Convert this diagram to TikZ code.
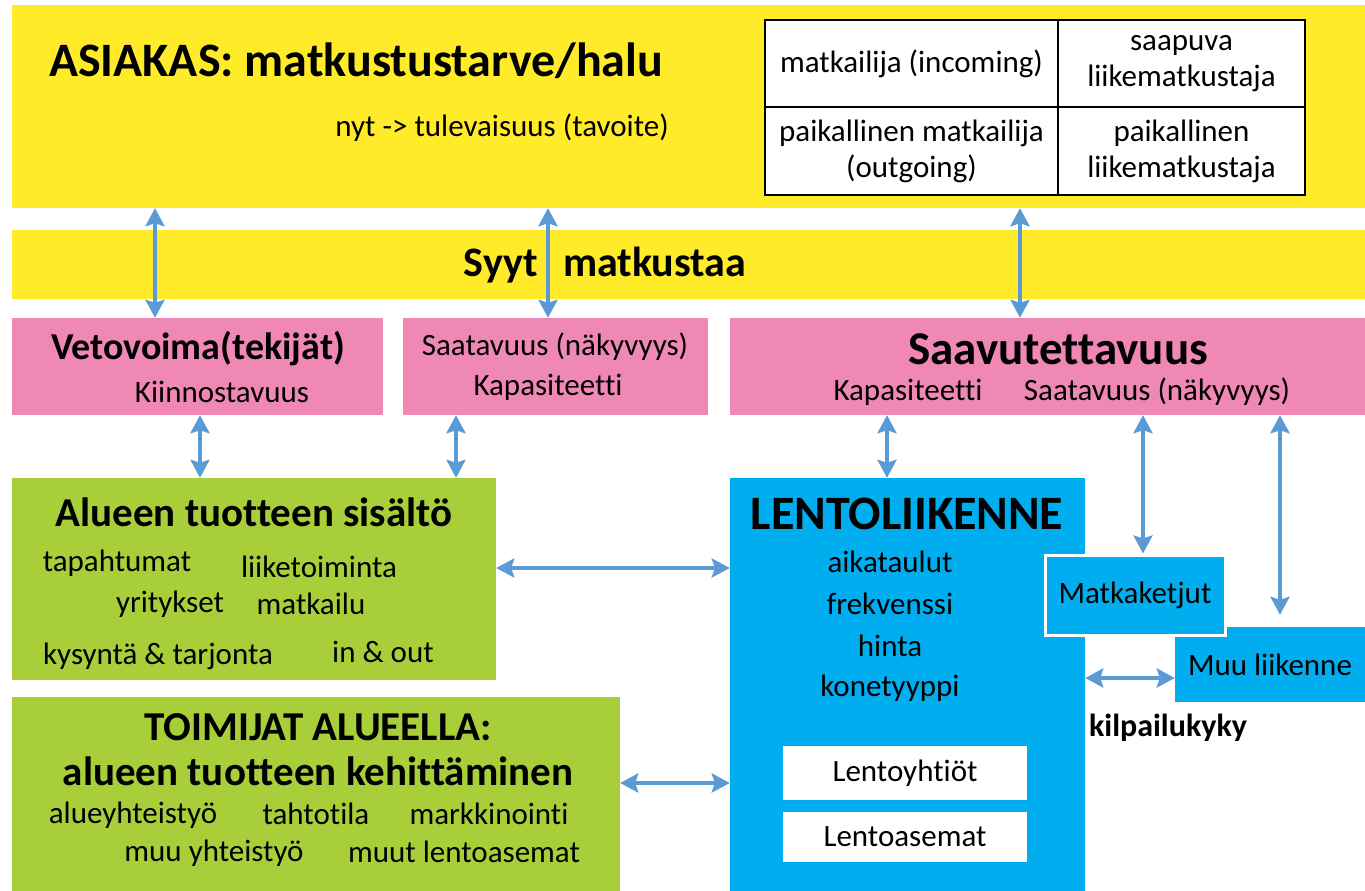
\documentclass[tikz,border=0pt]{standalone}
\usepackage{fontspec}
\setmainfont[Ligatures=NoCommon]{Carlito}
\usepackage{tikz}
\usetikzlibrary{arrows.meta}

\definecolor{asiakasyellow}{RGB}{255,235,41}
\definecolor{tekijapink}{RGB}{240,136,182}
\definecolor{alueengreen}{RGB}{168,206,58}
\definecolor{lentoblue}{RGB}{0,174,239}
\definecolor{linkblue}{RGB}{91,155,213}

\tikzset{
  box/.style={rectangle, draw=none, inner sep=0pt},
  cell/.style={rectangle, draw=black, line width=1.2pt, fill=white, inner sep=0pt, align=center, font=\fontsize{31}{36}\selectfont},
  txt/.style={inner sep=0pt, font=\fontsize{31}{36}\selectfont},
  head/.style={inner sep=0pt, font=\fontsize{41}{46}\selectfont\bfseries},
  link/.style={draw=linkblue, line width=4pt, {Stealth[length=18pt,width=19pt,inset=3pt]}-{Stealth[length=18pt,width=19pt,inset=3pt]}}
}

\begin{document}
\begin{tikzpicture}[x=1pt, y=-1pt]
	\useasboundingbox (0,0) rectangle (1365,891);

	% boxes
	\node[box, fill=asiakasyellow, minimum width=1353pt, minimum height=203pt] (asiakas) at (688.5,106.5) {};
	\node[box, fill=asiakasyellow, minimum width=1353pt, minimum height=69pt]  (syyt)    at (688.5,264)   {};
	\node[box, fill=tekijapink,  minimum width=371pt, minimum height=97pt] (veto) at (197.5,366.5) {};
	\node[box, fill=tekijapink,  minimum width=305pt, minimum height=97pt] (saat) at (555.5,366.5) {};
	\node[box, fill=tekijapink,  minimum width=635pt, minimum height=97pt] (saav) at (1047.5,366.5) {};
	\node[box, fill=alueengreen, minimum width=484pt, minimum height=202pt] (alue) at (254,579) {};
	\node[box, fill=alueengreen, minimum width=608pt, minimum height=194pt] (toim) at (316,794) {};
	\node[box, fill=lentoblue,   minimum width=355pt, minimum height=413pt] (lento) at (907.5,684.5) {};
	\node[box, fill=lentoblue,   minimum width=190pt, minimum height=75pt]  (muu)   at (1270,664.5) {};
	\node[box, fill=lentoblue, draw=white, line width=3pt, minimum width=180pt, minimum height=80pt] (ketju) at (1135,595) {};
	\node[box, fill=white, minimum width=244pt, minimum height=54pt] (yhtiot) at (905,773) {};
	\node[box, fill=white, minimum width=244pt, minimum height=50pt] (asemat) at (905,837) {};

	% table
	\node[cell, minimum width=293pt, minimum height=87pt] (c11) at (911.5,63.5)  {matkailija (incoming)};
	\node[cell, minimum width=247pt, minimum height=87pt] (c12) at (1181.5,63.5) {saapuva\\liikematkustaja};
	\node[cell, minimum width=293pt, minimum height=88pt] (c21) at (911.5,151)   {paikallinen matkailija\\(outgoing)};
	\node[cell, minimum width=247pt, minimum height=88pt] (c22) at (1181.5,151)  {paikallinen\\liikematkustaja};

	% texts
	\node[inner sep=0pt, font=\fontsize{48}{52}\selectfont\bfseries] (asiakastxt) at (356,61) {ASIAKAS: matkustustarve/halu};
	\node[txt] (nyt) at (502,128) {nyt -> tulevaisuus (tavoite)};
	\node[head, font=\fontsize{42}{46}\selectfont\bfseries] (syyttxt) at (605,265) {Syyt\hspace{0.6em}matkustaa};

	\node[head, font=\fontsize{38}{42}\selectfont\bfseries] (vetotxt) at (198,349) {Vetovoima(tekijät)};
	\node[txt] (kiinn) at (222,392) {Kiinnostavuus};
	\node[txt] (saattxt) at (555,347) {Saatavuus (näkyvyys)};
	\node[txt] (kap1) at (548,387) {Kapasiteetti};
	\node[head, font=\fontsize{47}{52}\selectfont\bfseries] (saavtxt) at (1058,349) {Saavutettavuus};
	\node[txt] (kap2) at (908,392) {Kapasiteetti};
	\node[txt] (saat2) at (1157,392) {Saatavuus (näkyvyys)};

	\node[head] (aluetxt) at (254,512) {Alueen tuotteen sisältö};
	\node[txt] (tapaht) at (117,563) {tapahtumat};
	\node[txt] (liiket) at (319,567) {liiketoiminta};
	\node[txt] (yrit)   at (170,604) {yritykset};
	\node[txt] (matk)   at (311,604) {matkailu};
	\node[txt] (kysynta) at (158,656) {kysyntä \& tarjonta};
	\node[txt] (inout)  at (383,652) {in \& out};

	\node[head] (toimtxt) at (318,727) {TOIMIJAT ALUEELLA:};
	\node[head] (kehit)   at (318,771) {alueen tuotteen kehittäminen};
	\node[txt] (alueyht) at (133,815) {alueyhteistyö};
	\node[txt] (tahto)   at (316,814) {tahtotila};
	\node[txt] (markk)   at (489,814) {markkinointi};
	\node[txt] (muuyht)  at (214,853) {muu yhteistyö};
	\node[txt] (muutla)  at (464,852) {muut lentoasemat};

	\node[head, font=\fontsize{48}{52}\selectfont\bfseries] (lentotxt) at (907,514) {LENTOLIIKENNE};
	\node[txt] (aikat) at (890,562) {aikataulut};
	\node[txt] (frekv) at (890,604) {frekvenssi};
	\node[txt] (hinta) at (890,646) {hinta};
	\node[txt] (konet) at (890,688) {konetyyppi};
	\node[txt] at (yhtiot) {Lentoyhtiöt};
	\node[txt] at (asemat) {Lentoasemat};
	\node[txt] at (ketju) {Matkaketjut};
	\node[txt] at (muu) {Muu liikenne};
	\node[inner sep=0pt, font=\fontsize{32}{36}\selectfont\bfseries] (kilp) at (1168,728) {kilpailukyky};

	% connectors
	\draw[link] ([xshift=-42.5pt]veto.north) -- ([xshift=-42.5pt]veto.north |- asiakas.south);
	\draw[link] ([xshift=-7.5pt]saat.north) -- ([xshift=-7.5pt]saat.north |- asiakas.south);
	\draw[link] ([xshift=-27.5pt]saav.north) -- ([xshift=-27.5pt]saav.north |- asiakas.south);
	\draw[link] ([xshift=2.5pt]veto.south) -- ([xshift=2.5pt]veto.south |- alue.north);
	\draw[link] ([xshift=-99.5pt]saat.south) -- ([xshift=-99.5pt]saat.south |- alue.north);
	\draw[link] ([xshift=-160.5pt]saav.south) -- ([xshift=-160.5pt]saav.south |- lento.north);
	\draw[link] ([xshift=95.5pt]saav.south) -- ([xshift=95.5pt]saav.south |- ketju.north);
	\draw[link, shorten >=12pt] ([xshift=232.5pt]saav.south) -- ([xshift=232.5pt]saav.south |- muu.north);
	\draw[link] ([yshift=11pt]alue.east) -- ([yshift=11pt]alue.east -| lento.west);
	\draw[link] ([yshift=-13.5pt]muu.west) -- ([yshift=-13.5pt]muu.west -| lento.east);
	\draw[link] ([yshift=11pt]toim.east) -- ([yshift=11pt]toim.east -| lento.west);
\end{tikzpicture}
\end{document}
